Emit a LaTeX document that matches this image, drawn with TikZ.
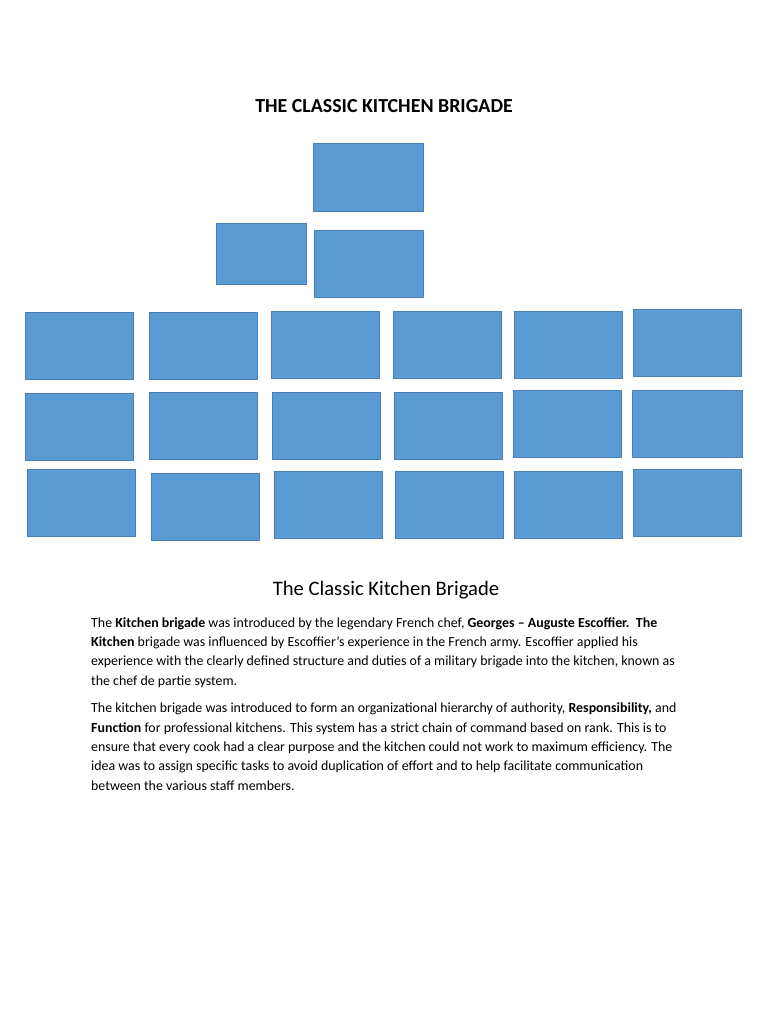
\documentclass[tikz,border=0pt]{standalone}
\usepackage{fontspec}
\setmainfont{Carlito}
\definecolor{boxblue}{HTML}{5B9BD5}
\definecolor{boxedge}{HTML}{4A7EB5}

\begin{document}
\begin{tikzpicture}[x=1pt, y=-1pt,
    brigbox/.style={rectangle, draw=boxedge, fill=boxblue, line width=0.7pt, inner sep=0pt, minimum width=108pt, minimum height=67pt},
    bodytext/.style={anchor=base west, inner sep=0pt, align=left, font=\fontsize{13.9}{19.3}\selectfont}]
    \useasboundingbox (0,0) rectangle (768,1024);
    \node[font=\fontsize{19.9}{24}\selectfont\bfseries, anchor=base, inner sep=0pt] (title) at (384, 113) {THE CLASSIC KITCHEN BRIGADE};
    % top of the brigade
    \node[brigbox, minimum width=110pt, minimum height=68pt] (chef) at (368, 177) {};
    \node[brigbox, minimum width=90pt, minimum height=61pt] (aide) at (261, 254) {};
    \node[brigbox, minimum width=109pt] (sous) at (368.5, 263.5) {};
    % first row
    \node[brigbox] (a1) at (79, 346) {};
    \node[brigbox] (a2) at (203, 346) {};
    \node[brigbox] (a3) at (325, 344.5) {};
    \node[brigbox] (a4) at (447, 345) {};
    \node[brigbox] (a5) at (568, 345) {};
    \node[brigbox] (a6) at (687.5, 343) {};
    % second row
    \node[brigbox] (b1) at (79, 426.5) {};
    \node[brigbox] (b2) at (203, 425.5) {};
    \node[brigbox] (b3) at (326, 425.5) {};
    \node[brigbox] (b4) at (448, 425.5) {};
    \node[brigbox] (b5) at (567, 424) {};
    \node[brigbox, minimum width=110pt] (b6) at (687, 423.5) {};
    % third row
    \node[brigbox] (c1) at (81, 503) {};
    \node[brigbox] (c2) at (205, 506.5) {};
    \node[brigbox] (c3) at (328, 505) {};
    \node[brigbox] (c4) at (449, 505) {};
    \node[brigbox] (c5) at (568, 504.5) {};
    \node[brigbox] (c6) at (687.5, 502.5) {};
    % text below (base = last line)
    \node[font=\fontsize{20.6}{24}\selectfont, anchor=base, inner sep=0pt] (subtitle) at (386, 595) {The Classic Kitchen Brigade};
    \node[bodytext] (para1) at (91, 685) {The \textbf{Kitchen brigade} was introduced by the legendary French chef, \textbf{Georges -- Auguste Escoffier.}\ \ \textbf{The}\\
        \textbf{Kitchen} brigade was influenced by Escoffier's experience in the French army. Escoffier applied his\\
        experience with the clearly defined structure and duties of a military brigade into the kitchen, known as\\
        the chef de partie system.};
    \node[bodytext] (para2) at (91, 790) {The kitchen brigade was introduced to form an organizational hierarchy of authority, \textbf{Responsibility,} and\\
        \textbf{Function} for professional kitchens. This system has a strict chain of command based on rank. This is to\\
        ensure that every cook had a clear purpose and the kitchen could not work to maximum efficiency. The\\
        idea was to assign specific tasks to avoid duplication of effort and to help facilitate communication\\
        between the various staff members.};
\end{tikzpicture}
\end{document}
